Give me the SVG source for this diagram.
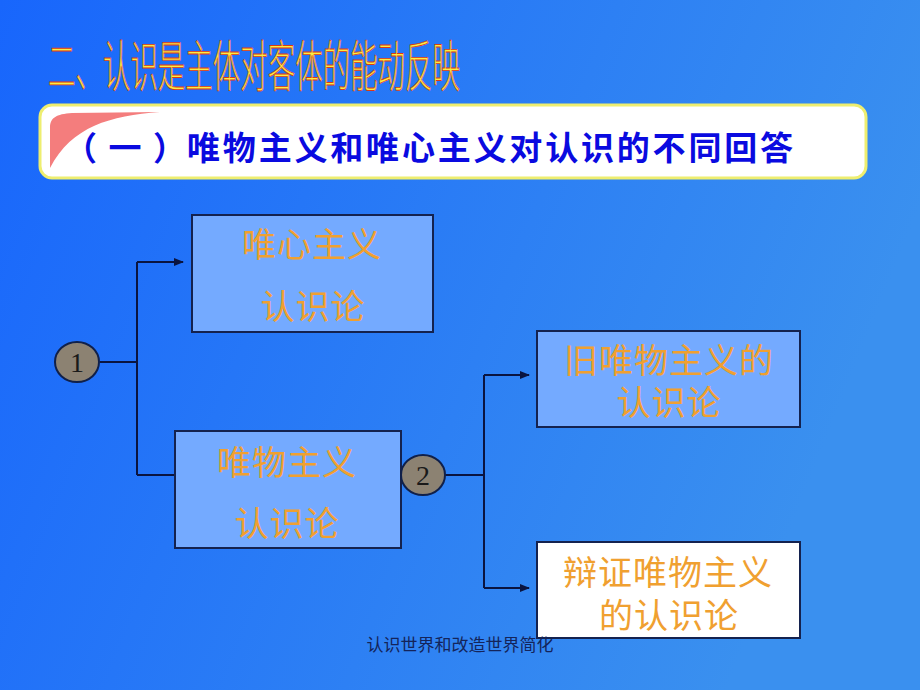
<svg xmlns="http://www.w3.org/2000/svg" width="920" height="690" viewBox="0 0 920 690">
<defs>
<linearGradient id="bg" x1="0" y1="0" x2="1" y2="0.3">
<stop offset="0" stop-color="#1866fc"/>
<stop offset="1" stop-color="#3a90ef"/>
</linearGradient>
<marker id="arr" markerWidth="10" markerHeight="8" refX="9" refY="4" orient="auto" markerUnits="userSpaceOnUse">
<path d="M0,0 L10,4 L0,8 Z" fill="#0a1440"/>
</marker>
<style>
.cjk{font-family:"Noto Sans CJK SC","Noto Sans",sans-serif;}
.box{fill:#74aaff;stroke:#14224f;stroke-width:2;}
.boxw{fill:#ffffff;stroke:#14224f;stroke-width:2;}
.bt{fill:#f0a030;font-size:34px;text-anchor:middle;letter-spacing:1px;}
.circ{fill:#8c8272;stroke:#10204a;stroke-width:2;}
.num{font-family:"Liberation Serif","DejaVu Serif",serif;font-size:28px;fill:#1a1a1a;text-anchor:middle;}
.con{fill:none;stroke:#0a1440;stroke-width:2;}
</style>
</defs>
<rect x="0" y="0" width="920" height="690" fill="url(#bg)"/>
<g id="title">
<text class="cjk" x="48" y="86" font-size="55" font-weight="300" textLength="412" lengthAdjust="spacingAndGlyphs" fill="#f8ee44" stroke="#e03a12" stroke-width="0.8">二、认识是主体对客体的能动反映</text>
</g>
<g id="banner">
<rect x="40" y="105" width="826" height="73" rx="12" ry="12" fill="#ffffff" stroke="#eeee70" stroke-width="3"/>
<path d="M50,168 L50,128 C50,118 56,114 72,113 L160,112 C110,116 72,126 50,168 Z" fill="#f47d7d"/>
<text class="cjk" x="64" y="160" font-size="33" font-weight="bold" fill="#0a0ae0" textLength="122" lengthAdjust="spacing">（一）</text>
<text class="cjk" x="187" y="160" font-size="33" font-weight="bold" fill="#0a0ae0" textLength="606" lengthAdjust="spacing">唯物主义和唯心主义对认识的不同回答</text>
</g>
<g id="connectors">
<path class="con" d="M100,362 L137,362 M137,262 L137,475"/>
<path class="con" d="M137,262 L183,262" marker-end="url(#arr)"/>
<path class="con" d="M137,475 L183,475" marker-end="url(#arr)"/>
<path class="con" d="M445,475 L484,475 M484,375 L484,588"/>
<path class="con" d="M484,375 L529,375" marker-end="url(#arr)"/>
<path class="con" d="M484,588 L529,588" marker-end="url(#arr)"/>
</g>
<g id="node-idealism">
<rect class="box" x="192" y="215" width="241" height="117"/>
<text class="cjk bt" x="312" y="257">唯心主义</text>
<text class="cjk bt" x="313" y="319">认识论</text>
</g>
<g id="node-materialism">
<rect class="box" x="175" y="431" width="226" height="117"/>
<text class="cjk bt" x="287" y="475">唯物主义</text>
<text class="cjk bt" x="287" y="536">认识论</text>
</g>
<g id="node-old">
<rect class="box" x="537" y="331" width="263" height="96"/>
<text class="cjk bt" x="669" y="373">旧唯物主义的</text>
<text class="cjk bt" x="669" y="415">认识论</text>
</g>
<g id="node-dialectical">
<rect class="boxw" x="537" y="542" width="263" height="96"/>
<text class="cjk bt" x="668" y="585">辩证唯物主义</text>
<text class="cjk bt" x="669" y="628">的认识论</text>
</g>
<g id="node-1">
<ellipse class="circ" cx="77" cy="362" rx="22" ry="20"/>
<text class="num" x="77" y="372">1</text>
</g>
<g id="node-2">
<ellipse class="circ" cx="423" cy="475" rx="22" ry="20"/>
<text class="num" x="423" y="485">2</text>
</g>
<g id="footer">
<text x="460" y="651" font-family="'Liberation Serif','Noto Sans CJK SC',serif" font-size="17" fill="#14245a" text-anchor="middle">认识世界和改造世界简化</text>
</g>
</svg>
